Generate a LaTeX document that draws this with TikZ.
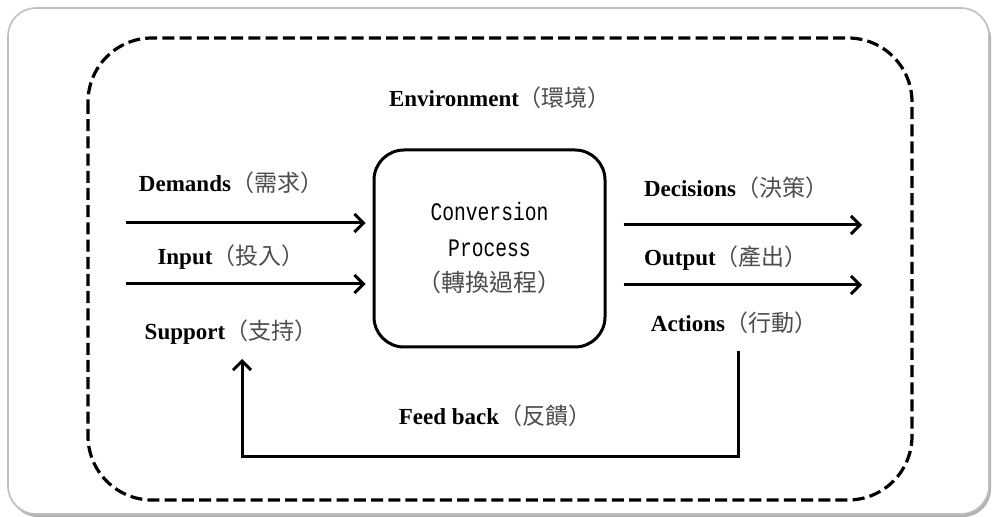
\documentclass[tikz,border=0pt]{standalone}
\usepackage{fontspec}
\setmainfont{Liberation Serif}
\newfontfamily\cjk{Noto Sans CJK TC}
\newfontfamily\convfont[FakeStretch=0.78]{Liberation Mono}
\usetikzlibrary{arrows.meta}

\tikzset{
  flow/.style={line width=1.5pt,-{Straight Barb[length=4.5pt,width=9pt,line width=1.5pt]}},
  envline/.style={line width=1.6pt,dash pattern=on 6pt off 2.6pt,rounded corners=32pt},
  convbox/.style={draw,line width=1.5pt,rounded corners=15pt,minimum width=115.5pt,minimum height=98.5pt,align=center,inner sep=0pt},
  lbl/.style={font=\fontsize{11.5}{14}\selectfont\bfseries,inner sep=0pt},
}
\newcommand{\zh}[1]{{\cjk\mdseries\fontsize{11.5}{14}\selectfont\color{black!70}#1}}

\begin{document}
\begin{tikzpicture}[x=0.5pt,y=-0.5pt]
\useasboundingbox (0,0) rectangle (994,517);
% outer card with a soft shadow
\fill[black!30,rounded corners=14pt] (10,11) rectangle (991,517);
\fill[white,draw=black!25,line width=0.8pt,rounded corners=14pt] (8,8) rectangle (989,514);
% environment boundary
\draw[envline] (88,38) rectangle (912,500);
\node[lbl] (env) at (500,98) {Environment\zh{（環境）}};

% conversion box
\node[convbox,font=\fontsize{12.6}{17.75}\selectfont] (conv) at (489.5,248.5)
  {\convfont Conversion\\\convfont Process\\{\cjk\fontsize{12}{17.75}\selectfont\color{black!70}（轉換過程）}};

% inputs
\node[lbl] (demands) at (231,183) {Demands\zh{（需求）}};
\node[lbl] (input) at (231,257) {Input\zh{（投入）}};
\node[lbl] (support) at (231,332) {Support\zh{（支持）}};
\coordinate (dIn) at (126,223);
\coordinate (iIn) at (126,284);
\draw[flow] (dIn) -- ([xshift=-3.5pt]dIn -| conv.west);
\draw[flow] (iIn) -- ([xshift=-3.5pt]iIn -| conv.west);

% outputs
\node[lbl] (decisions) at (736,188) {Decisions\zh{（決策）}};
\node[lbl] (output) at (726,258) {Output\zh{（產出）}};
\node[lbl] (actions) at (734,323) {Actions\zh{（行動）}};
\coordinate (dOut) at (862,225);
\coordinate (oOut) at (862,285);
\draw[flow] ([xshift=8.5pt]dOut -| conv.east) -- (dOut);
\draw[flow] ([xshift=8.5pt]oOut -| conv.east) -- (oOut);

% feedback loop
\node[lbl] (feedback) at (495,416) {Feed back\zh{（反饋）}};
\coordinate (fbTop) at (738,351);
\coordinate (fbBot) at (738,456);
\coordinate (fbEnd) at (242,359);
\draw[flow] (fbTop) -- (fbBot) -| (fbEnd);
\end{tikzpicture}
\end{document}
